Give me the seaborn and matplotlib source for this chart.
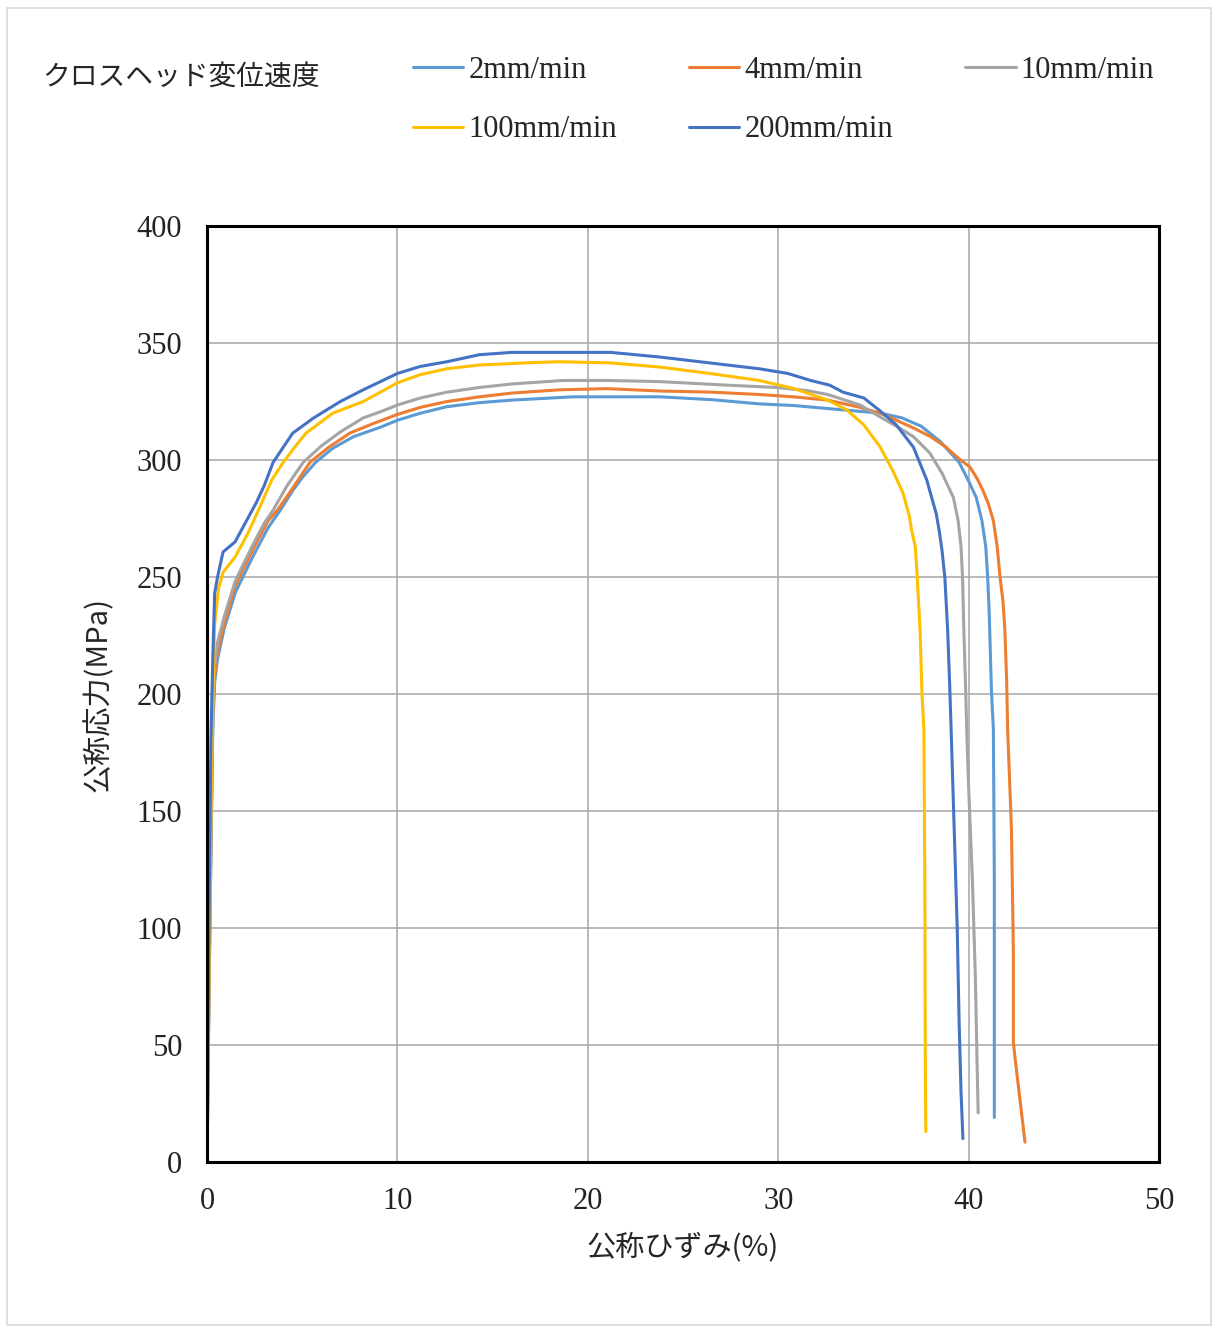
import pandas as pd
import numpy as np
import matplotlib.pyplot as plt
import seaborn as sns
from matplotlib.patches import Rectangle

# 読み取り値 (公称ひずみ %, 公称応力 MPa)
speeds = ['2mm/min', '4mm/min', '10mm/min', '100mm/min', '200mm/min']
colors = ['#5B9BD5', '#ED7D31', '#A5A5A5', '#FFC000', '#4472C4']

strain_2 = [0, 0.1, 0.2, 0.3, 0.4, 0.55, 0.9, 1.47, 1.7, 2.36, 3.2, 3.85, 4.5, 5.0, 5.7, 6.6, 7.7, 9.1, 10, 11.2,
            12.6, 14.3, 16, 19.2, 21.5, 23.8, 26.5, 29, 30.8, 32.6, 34, 35.4, 36.5, 37.5, 38.5, 39.5, 40.0, 40.4,
            40.7, 40.9, 41.0, 41.08, 41.2, 41.3, 41.35, 41.35]
stress_2 = [0, 70, 130, 185, 205, 215, 228, 243, 247, 258, 271, 278.6, 287, 292.5, 299, 305, 310, 314, 317, 320,
            322.8, 324.5, 325.6, 327, 327, 327, 325.8, 324, 323.3, 322, 321, 320, 318, 314.5, 308, 299, 291, 284,
            274, 263, 250, 235, 201, 185, 120, 19]

strain_4 = [0, 0.1, 0.2, 0.3, 0.4, 0.55, 0.9, 1.47, 1.7, 2.36, 3.2, 3.7, 4.5, 5.4, 6.4, 7.5, 8.7, 10, 11.2, 12.6,
            14.3, 16, 18.5, 21, 23.8, 26.5, 29, 30.8, 32.6, 34.3, 35.35, 36.2, 37.1, 38, 38.8, 39.5, 40.07, 40.45,
            40.75, 41.05, 41.3, 41.5, 41.65, 41.8, 41.9, 42.0, 42.05, 42.25, 42.35, 42.35, 42.45, 42.96]
stress_4 = [0, 75, 135, 190, 208, 218, 230, 246, 250, 261, 274, 278.6, 288, 299, 305.5, 311.5, 315.5, 319.5, 322.5, 325,
            327, 328.6, 330, 330.5, 329.5, 329, 328, 327, 325.6, 322.5, 320, 317, 313.7, 310, 305.6, 300.5, 297, 292,
            287, 281, 274, 263, 250, 240, 228, 205, 184.6, 142, 90, 51, 43.6, 8.5]

strain_10 = [0, 0.1, 0.2, 0.3, 0.4, 0.55, 0.9, 1.47, 1.7, 2.36, 3.0, 3.47, 4.2, 5.05, 6.0, 7.0, 8.2, 9.1, 10, 11.2,
             12.6, 14.3, 16, 18.7, 21, 23.8, 27.3, 29.9, 31.5, 32.6, 34.3, 35.35, 36.2, 37.1, 37.96, 38.6, 39.2,
             39.45, 39.6, 39.68, 39.75, 39.85, 39.9, 40.0, 40.2, 40.35, 40.45, 40.5]
stress_10 = [0, 70, 130, 190, 212, 222, 233, 248, 252, 263, 273, 278.6, 289, 299, 306, 312, 318, 320.6, 323.5, 326.5,
             329, 331, 332.5, 334, 334, 333.5, 332, 331, 329.7, 328, 323.5, 318.4, 314.5, 310, 303, 294.4, 284,
             274, 263, 250, 227, 200, 184.6, 160, 120, 80, 40, 21]

strain_100 = [0, 0.1, 0.25, 0.4, 0.6, 0.84, 1.47, 2.15, 2.7, 3.4, 4.0, 4.6, 5.2, 6.6, 8.2, 9.1, 10, 11.2, 12.6, 14.3,
              17, 18.5, 21.2, 23.8, 26.4, 29, 30.8, 32.6, 33.6, 34.5, 35.35, 36.0, 36.55, 36.9, 37.0, 37.2, 37.3,
              37.45, 37.55, 37.65, 37.7, 37.72, 37.75]
stress_100 = [0, 80, 180, 230, 245, 252, 258.5, 268.7, 278.6, 291.5, 299, 305.5, 311.5, 320, 325, 329, 333, 336.5, 339,
              340.6, 341.6, 342, 341.5, 339.7, 337, 334, 330.6, 325.6, 321.4, 315, 305.6, 295.7, 286, 275.6, 270, 263,
              250, 227, 200, 184.6, 120, 50, 13]

strain_200 = [0, 0.1, 0.2, 0.3, 0.4, 0.55, 0.84, 1.47, 2.2, 2.6, 3.0, 3.47, 4.5, 5.6, 7.0, 8.2, 9.1, 10, 11.2, 12.6,
              14.3, 16, 18.5, 21.2, 23.8, 26.4, 29, 30.5, 31.7, 32.7, 33.4, 34.5, 35.35, 36.2, 37.1, 37.8, 38.3,
              38.45, 38.6, 38.75, 38.9, 39.0, 39.08, 39.25, 39.4, 39.5, 39.6, 39.7]
stress_200 = [0, 100, 180, 215, 243, 250, 260.7, 265, 276, 282, 289, 299, 311.5, 318, 325, 330, 333.5, 337, 340, 342,
              345, 346, 346, 346, 344, 341.5, 339, 337, 334, 332, 329, 326.5, 321, 315, 305.5, 291.5, 277,
              270, 261.5, 250, 227, 205, 185, 140, 100, 60, 30, 10]

x_ticks = [0, 10, 20, 30, 40, 50]
y_ticks = [0, 50, 100, 150, 200, 250, 300, 350, 400]

frames = []
for name, xs, ys in zip(speeds,
                        [strain_2, strain_4, strain_10, strain_100, strain_200],
                        [stress_2, stress_4, stress_10, stress_100, stress_200]):
    frames.append(pd.DataFrame({'strain': xs, 'stress': ys, 'speed': name}))
df = pd.concat(frames, ignore_index=True)

sns.set_theme(style='whitegrid')
plt.rcParams['font.family'] = ['Liberation Serif', 'Noto Sans CJK JP']

fig = plt.figure(figsize=(12.13, 13.28), dpi=100)
ax = fig.add_axes([0.1707, 0.125, 0.7848, 0.7048])

sns.lineplot(data=df, x='strain', y='stress', hue='speed', hue_order=speeds,
             palette=dict(zip(speeds, colors)), sort=False, estimator=None,
             linewidth=2.2, ax=ax, legend=False)

ax.set_xlim(0, 50)
ax.set_ylim(0, 400)
ax.set_xticks(x_ticks)
ax.set_yticks(y_ticks)
ax.grid(True, color='#A6A6A6', linewidth=1.1)
ax.tick_params(length=0, labelsize=22, pad=18, colors='#222222')
for sp in ax.spines.values():
    sp.set_color('black')
    sp.set_linewidth(2.2)

ax.set_xlabel('公称ひずみ(%)', family=['Noto Sans CJK JP'], fontsize=21, labelpad=12)
ax.set_ylabel('公称応力(MPa)', family=['Noto Sans CJK JP'], fontsize=21, labelpad=16)

# 凡例は行方向に並べる (matplotlibは列方向に埋めるので順番を入れ替え)
leg_order = [0, 3, 1, 4, 2]
handles = [plt.Line2D([], [], color=colors[i], linewidth=2.2) for i in leg_order]
labels = [speeds[i] for i in leg_order]
fig.legend(handles, labels, loc='upper left', bbox_to_anchor=(0.3405, 0.958), ncol=3,
           frameon=False, fontsize=22, handlelength=1.65, handletextpad=0.16,
           columnspacing=2.36, labelspacing=1.0, borderpad=0, borderaxespad=0)
fig.text(42 / 1213, 1 - 78 / 1328, 'クロスヘッド変位速度', family=['Noto Sans CJK JP'],
         fontsize=20, va='center', ha='left')

fig.patches.append(Rectangle((0.006, 0.002), 0.992, 0.992, transform=fig.transFigure,
                             fill=False, edgecolor='#D9D9D9', linewidth=1.2))

fig.savefig('out.png', dpi=100)
